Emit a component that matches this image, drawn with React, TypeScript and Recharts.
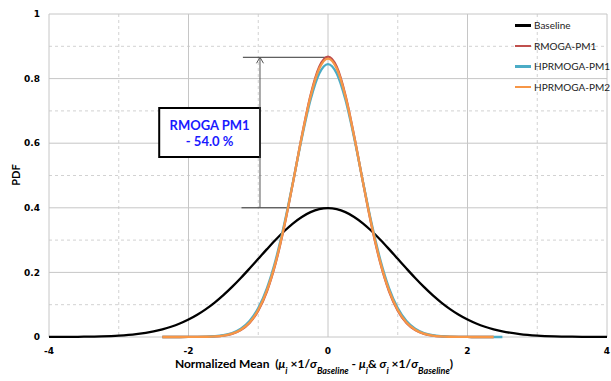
import React from "react";
import {
  CartesianGrid,
  Legend,
  Line,
  LineChart,
  ReferenceArea,
  ReferenceLine,
  XAxis,
  YAxis,
} from "recharts";

const xValues = [
  -4, -3.75, -3.5, -3.25, -3, -2.75, -2.5, -2.375, -2.25, -2.125, -2, -1.875, -1.75, -1.625, -1.5, -1.375,
  -1.25, -1.125, -1, -0.875, -0.75, -0.625, -0.5, -0.375, -0.25, -0.125, 0, 0.125, 0.25, 0.375, 0.5, 0.625,
  0.75, 0.875, 1, 1.125, 1.25, 1.375, 1.5, 1.625, 1.75, 1.875, 2, 2.125, 2.25, 2.375, 2.5, 2.75, 3, 3.25,
  3.5, 3.75, 4,
];

const baseline = [
  0.0001, 0.0004, 0.0009, 0.002, 0.0044, 0.0091, 0.0175, 0.0238, 0.0317, 0.0417, 0.054, 0.0688, 0.0863,
  0.1065, 0.1295, 0.155, 0.1826, 0.2119, 0.242, 0.272, 0.3011, 0.3281, 0.3521, 0.3718, 0.3867, 0.3958,
  0.3989, 0.3958, 0.3867, 0.3718, 0.3521, 0.3281, 0.3011, 0.272, 0.242, 0.2119, 0.1826, 0.155, 0.1295,
  0.1065, 0.0863, 0.0688, 0.054, 0.0417, 0.0317, 0.0238, 0.0175, 0.0091, 0.0044, 0.002, 0.0009, 0.0004,
  0.0001,
];

const rmogaPm1 = [
  null, null, null, null, null, null, null, 0, 0, 0, 0.0001, 0.0002, 0.0006, 0.0017, 0.0042, 0.0099, 0.0215,
  0.0434, 0.0814, 0.1417, 0.2292, 0.3443, 0.4804, 0.6223, 0.7487, 0.8365, 0.868, 0.8365, 0.7487, 0.6223,
  0.4804, 0.3443, 0.2292, 0.1417, 0.0814, 0.0434, 0.0215, 0.0099, 0.0042, 0.0017, 0.0006, 0.0002, 0.0001,
  0, 0, 0, null, null, null, null, null, null, null,
];

const hprmogaPm1 = [
  null, null, null, null, null, null, null, 0, 0, 0, 0.0001, 0.0003, 0.0009, 0.0023, 0.0054, 0.0122, 0.0254,
  0.0494, 0.0896, 0.1516, 0.2392, 0.3518, 0.4822, 0.6163, 0.7344, 0.8159, 0.845, 0.8159, 0.7344, 0.6163,
  0.4822, 0.3518, 0.2392, 0.1516, 0.0896, 0.0494, 0.0254, 0.0122, 0.0054, 0.0023, 0.0009, 0.0003, 0.0001,
  0, 0, 0, 0, null, null, null, null, null, null,
];

const hprmogaPm2 = [
  null, null, null, null, null, null, null, 0, 0, 0, 0.0001, 0.0002, 0.0007, 0.0018, 0.0045, 0.0104, 0.0225,
  0.0449, 0.0835, 0.1443, 0.2319, 0.3464, 0.4809, 0.6207, 0.7449, 0.8311, 0.862, 0.8311, 0.7449, 0.6207,
  0.4809, 0.3464, 0.2319, 0.1443, 0.0835, 0.0449, 0.0225, 0.0104, 0.0045, 0.0018, 0.0007, 0.0002, 0.0001,
  0, 0, 0, null, null, null, null, null, null, null,
];

const xTicks = [-4, -2, 0, 2, 4];
const yTicks = [0, 0.2, 0.4, 0.6, 0.8, 1];
const xMinor = [-3, -1, 1, 3];
const yMinor = [0.1, 0.3, 0.5, 0.7, 0.9];

const series = [
  { key: "baseline", name: "Baseline", color: "#000000" },
  { key: "rmogaPm1", name: "RMOGA-PM1", color: "#C0504D" },
  { key: "hprmogaPm1", name: "HPRMOGA-PM1", color: "#4BACC6" },
  { key: "hprmogaPm2", name: "HPRMOGA-PM2", color: "#F79646" },
];

const data = xValues.map((x, i) => ({
  x,
  baseline: baseline[i],
  rmogaPm1: rmogaPm1[i],
  hprmogaPm1: hprmogaPm1[i],
  hprmogaPm2: hprmogaPm2[i],
}));

// peak levels marked by the annotation
const peakRmoga = 0.866;
const peakBase = 0.4;

const tickStyle = { fontFamily: "DejaVu Sans", fontSize: 9, fontWeight: 700, fill: "#000" };
const labelFont = "Lato, 'Open Sans', sans-serif";

function LegendBox() {
  return (
    <div style={{ fontFamily: labelFont, fontSize: 10, color: "#222", whiteSpace: "nowrap" }}>
      {series.map((s) => (
        <div key={s.key} style={{ display: "flex", alignItems: "center", height: 20.5 }}>
          <span style={{ display: "inline-block", width: 16, height: 2.5, background: s.color, marginRight: 3 }} />
          {s.name}
        </div>
      ))}
    </div>
  );
}

function ArrowLine(props: any) {
  const { x1, y1, x2, y2 } = props;
  const top = Math.min(y1, y2);
  const bottom = Math.max(y1, y2);
  return (
    <g stroke="#555" strokeWidth={1} fill="none">
      <line x1={x1} y1={bottom} x2={x1} y2={top} />
      <polyline points={`${x1 - 3.5},${top + 6} ${x1},${top} ${x1 + 3.5},${top + 6}`} />
    </g>
  );
}

function BoxLabel(props: any) {
  const vb = props.viewBox || {};
  const cx = vb.x + vb.width / 2;
  const cy = vb.y + vb.height / 2;
  return (
    <text
      x={cx}
      y={cy}
      textAnchor="middle"
      fill="#1a1aff"
      fontFamily={labelFont}
      fontSize={13}
      fontWeight={700}
    >
      <tspan x={cx} dy={-3}>RMOGA PM1</tspan>
      <tspan x={cx} dy={16}>- 54.0 %</tspan>
    </text>
  );
}

function XLabel(props: any) {
  const vb = props.viewBox || {};
  const sub = { baselineShift: "sub", fontSize: 9, fontStyle: "italic" } as any;
  return (
    <text x={vb.x + vb.width / 2 - 14} y={368} textAnchor="middle" fontFamily={labelFont} fontSize={12} fontWeight={700} fill="#000">
      Normalized Mean{"\u00a0\u00a0"}(
      <tspan fontStyle="italic">μ</tspan>
      <tspan style={sub}>i</tspan>
      <tspan> ×1/</tspan>
      <tspan fontStyle="italic">σ</tspan>
      <tspan style={sub}>Baseline</tspan>
      <tspan> - </tspan>
      <tspan fontStyle="italic">μ</tspan>
      <tspan style={sub}>i</tspan>
      <tspan>&amp; </tspan>
      <tspan fontStyle="italic">σ</tspan>
      <tspan style={sub}>i</tspan>
      <tspan> ×1/</tspan>
      <tspan fontStyle="italic">σ</tspan>
      <tspan style={sub}>Baseline</tspan>
      <tspan>)</tspan>
    </text>
  );
}

function YLabel() {
  return (
    <text x={15} y={175} transform="rotate(-90 15 175)" textAnchor="middle" dominantBaseline="central" fontFamily={labelFont} fontSize={11} fontWeight={700} fill="#000">
      PDF
    </text>
  );
}

export default function App() {
  return (
    <div style={{ position: "absolute", left: 0, top: 0, background: "#fff" }}>
      <LineChart width={611} height={381} data={data} margin={{ top: 14, right: 4, left: 9, bottom: 24 }}>
        <CartesianGrid
          horizontalValues={yMinor}
          verticalValues={xMinor}
          stroke="#d2d2d2"
          strokeDasharray="3 3"
        />
        <CartesianGrid stroke="#c6c6c6" />
        <XAxis
          dataKey="x"
          type="number"
          domain={[-4, 4]}
          ticks={xTicks}
          tick={tickStyle}
          tickLine={false}
          axisLine={false}
          tickMargin={5}
          height={20}
          label={<XLabel />}
        />
        <YAxis
          type="number"
          domain={[0, 1]}
          ticks={yTicks}
          tick={tickStyle}
          tickLine={false}
          axisLine={false}
          tickMargin={3}
          width={40}
          label={<YLabel />}
        />
        <Legend
          layout="vertical"
          align="center"
          verticalAlign="middle"
          content={<LegendBox />}
          wrapperStyle={{ position: "absolute", left: 515, top: 15, width: 96 }}
        />
        <ReferenceArea
          x1={-2.42}
          x2={-0.975}
          y1={0.557}
          y2={0.709}
          fill="#fff"
          fillOpacity={1}
          stroke="#000"
          strokeWidth={2}
          label={<BoxLabel />}
        />
        <ReferenceLine segment={[{ x: -1.22, y: peakRmoga }, { x: 0, y: peakRmoga }]} stroke="#333" strokeWidth={1} />
        <ReferenceLine segment={[{ x: -1.24, y: peakBase }, { x: 0, y: peakBase }]} stroke="#333" strokeWidth={1} />
        <ReferenceLine
          segment={[{ x: -0.975, y: peakBase }, { x: -0.975, y: peakRmoga }]}
          shape={<ArrowLine />}
        />
        {series.map((s) => (
          <Line
            key={s.key}
            dataKey={s.key}
            name={s.name}
            type="monotone"
            stroke={s.color}
            strokeWidth={2.3}
            dot={false}
            activeDot={false}
            isAnimationActive={false}
          />
        ))}
      </LineChart>
    </div>
  );
}
